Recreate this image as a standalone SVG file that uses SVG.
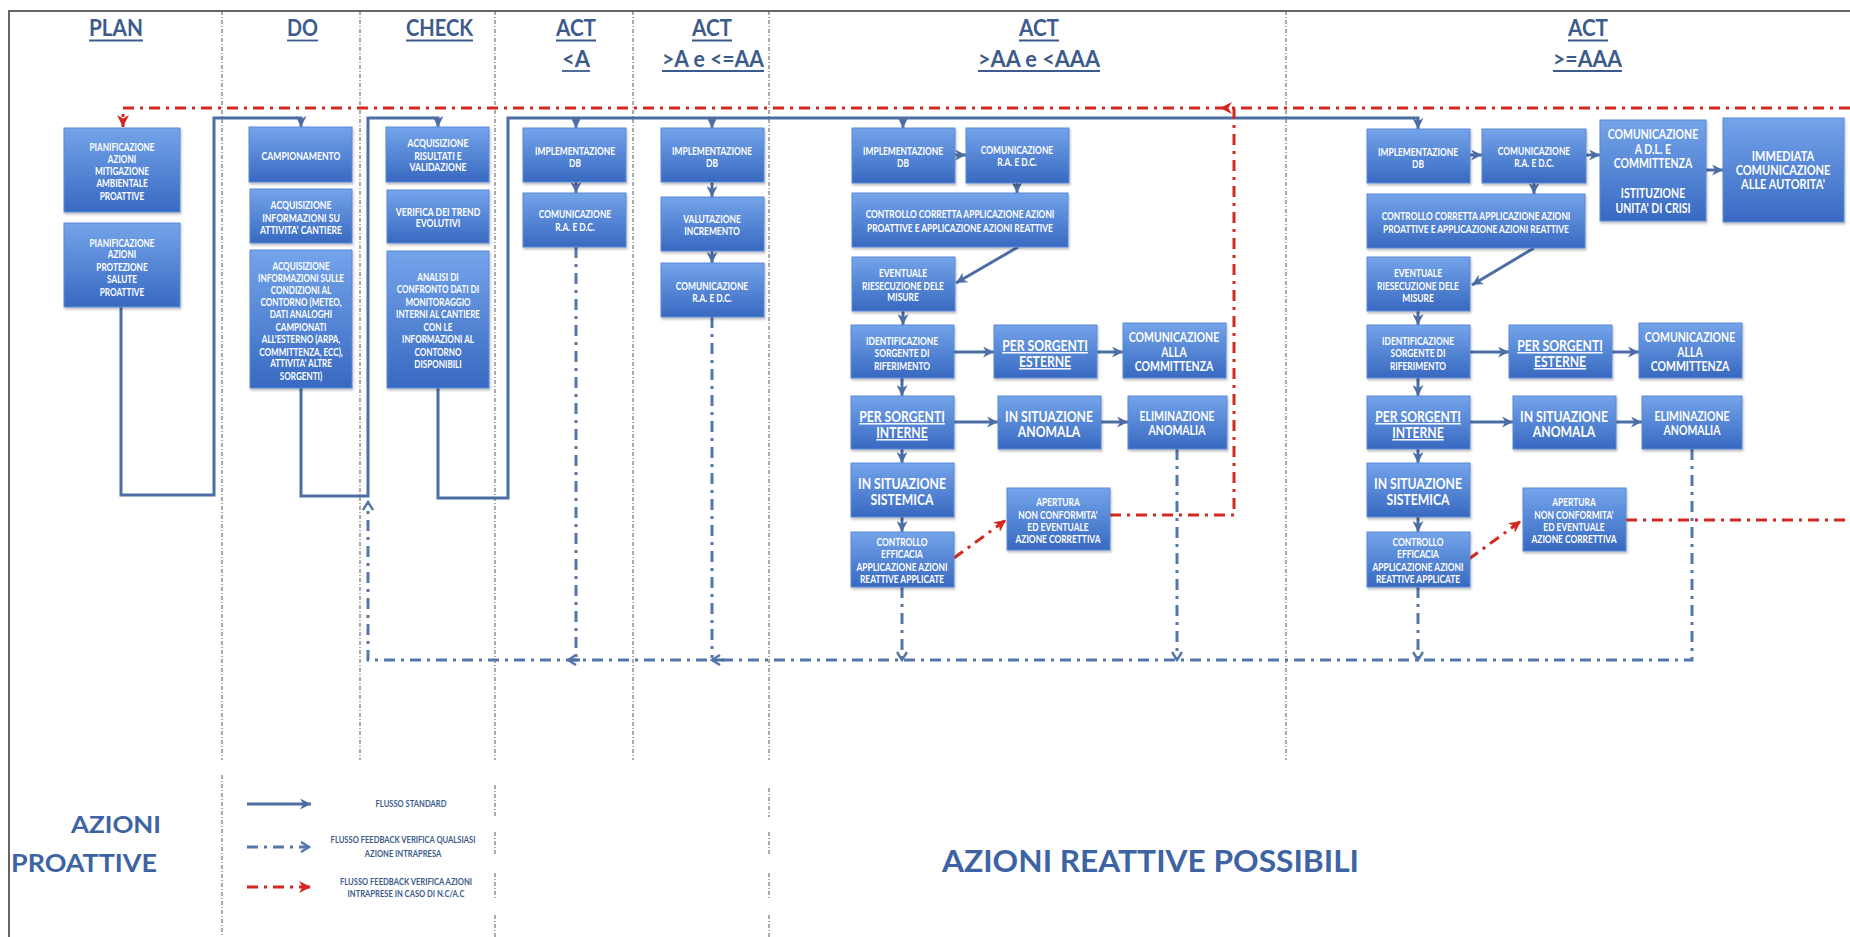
<svg xmlns="http://www.w3.org/2000/svg" width="1850" height="937" viewBox="0 0 1850 937">
<style>
  .box { fill: url(#boxFill); stroke: #5a89d3; stroke-width: 1; filter: url(#sh); }
  .t { font-family: Lato, "Open Sans", "Liberation Sans", sans-serif; font-weight: 700; fill: #ffffff; text-anchor: middle; }
  .s { font-size: 10.5px; }
  .m { font-size: 12.5px; }
  .l { font-size: 14.5px; }
  .u { text-decoration: underline; }
  .hd { font-family: Lato, "Open Sans", "Liberation Sans", sans-serif; font-weight: 700; font-size: 23px; fill: #3c5b8c; }
  .hl { stroke: #3c5b8c; stroke-width: 1.8; }
  .big { font-family: Lato, "Open Sans", "Liberation Sans", sans-serif; font-weight: 700; fill: #3d63a3; }
  .lg { font-family: Lato, "Open Sans", "Liberation Sans", sans-serif; font-weight: 700; font-size: 9.5px; fill: #3c5b8c; text-anchor: middle; }
  .div { stroke: #555; stroke-width: 1; stroke-dasharray: 4 2 1 2; fill: none; }
  .flow { stroke: #4d6ea4; stroke-width: 3; fill: none; }
  .fb { stroke: #5477ab; stroke-width: 3; fill: none; stroke-dasharray: 11 6 3 6; }
  .nc { stroke: #d3281f; stroke-width: 3; fill: none; stroke-dasharray: 11 6 3 6; }
</style>
<defs>
  <linearGradient id="boxFill" x1="0" y1="0" x2="0" y2="1">
    <stop offset="0" stop-color="#74a4ea"/>
    <stop offset="1" stop-color="#3869c1"/>
  </linearGradient>
  <filter id="sh" x="-5%" y="-5%" width="115%" height="120%">
    <feDropShadow dx="1" dy="2" stdDeviation="1.2" flood-color="#000" flood-opacity="0.25"/>
  </filter>
  <marker id="ah" viewBox="0 0 10 10" refX="10" refY="5" markerWidth="11" markerHeight="11" markerUnits="userSpaceOnUse" orient="auto">
    <path d="M0,0 L10,5 L0,10 L3,5 z" fill="#4d6ea4"/>
  </marker>
  <marker id="ao" viewBox="0 0 12 12" refX="10" refY="6" markerWidth="12" markerHeight="12" markerUnits="userSpaceOnUse" orient="auto">
    <path d="M2,1 L10,6 L2,11" fill="none" stroke="#5477ab" stroke-width="2.4"/>
  </marker>
  <marker id="ar" viewBox="0 0 10 10" refX="10" refY="5" markerWidth="12" markerHeight="12" markerUnits="userSpaceOnUse" orient="auto">
    <path d="M0,0 L10,5 L0,10 L3,5 z" fill="#d3281f"/>
  </marker>
</defs>

<rect width="1850" height="937" fill="#ffffff"/>

<!-- frame -->
<path d="M9,937 V11 H1850" fill="none" stroke="#666" stroke-width="2"/>

<!-- column separators -->
<g id="separators">
  <path class="div" d="M222,11 V760 M222,775 V937"/>
  <path class="div" d="M360,11 V760"/>
  <path class="div" d="M495,11 V760 M495,785 V817 M495,832 V855 M495,873 V900 M495,915 V937"/>
  <path class="div" d="M633,11 V760"/>
  <path class="div" d="M769,11 V760 M769,788 V817 M769,832 V855 M769,873 V900 M769,915 V937"/>
  <path class="div" d="M1286,11 V760"/>
</g>

<!-- column headers -->
<g id="headers">
  <text class="hd" x="89" y="36" textLength="54" lengthAdjust="spacingAndGlyphs">PLAN</text>
  <line class="hl" x1="89" y1="40.5" x2="143" y2="40.5"/>
  <text class="hd" x="287" y="36" textLength="31" lengthAdjust="spacingAndGlyphs">DO</text>
  <line class="hl" x1="287" y1="40.5" x2="318" y2="40.5"/>
  <text class="hd" x="406" y="36" textLength="67" lengthAdjust="spacingAndGlyphs">CHECK</text>
  <line class="hl" x1="406" y1="40.5" x2="473" y2="40.5"/>
  <text class="hd" x="556" y="36" textLength="40" lengthAdjust="spacingAndGlyphs">ACT</text>
  <line class="hl" x1="556" y1="40.5" x2="596" y2="40.5"/>
  <text class="hd" x="562" y="67" textLength="28" lengthAdjust="spacingAndGlyphs">&lt;A</text>
  <line class="hl" x1="562" y1="71" x2="590" y2="71"/>
  <text class="hd" x="692" y="36" textLength="40" lengthAdjust="spacingAndGlyphs">ACT</text>
  <line class="hl" x1="692" y1="40.5" x2="732" y2="40.5"/>
  <text class="hd" x="662" y="67" textLength="102" lengthAdjust="spacingAndGlyphs">&gt;A e &lt;=AA</text>
  <line class="hl" x1="662" y1="71" x2="764" y2="71"/>
  <text class="hd" x="1019" y="36" textLength="40" lengthAdjust="spacingAndGlyphs">ACT</text>
  <line class="hl" x1="1019" y1="40.5" x2="1059" y2="40.5"/>
  <text class="hd" x="978" y="67" textLength="122" lengthAdjust="spacingAndGlyphs">&gt;AA e &lt;AAA</text>
  <line class="hl" x1="978" y1="71" x2="1100" y2="71"/>
  <text class="hd" x="1568" y="36" textLength="40" lengthAdjust="spacingAndGlyphs">ACT</text>
  <line class="hl" x1="1568" y1="40.5" x2="1608" y2="40.5"/>
  <text class="hd" x="1553" y="67" textLength="69" lengthAdjust="spacingAndGlyphs">&gt;=AAA</text>
  <line class="hl" x1="1553" y1="71" x2="1622" y2="71"/>
</g>

<!-- connectors -->
<g id="connectors">
  <!-- standard flow -->
  <path class="flow" d="M121,307 V495 H214 V118 H301 V127" marker-end="url(#ah)"/>
  <path class="flow" d="M301,388 V496 H368 V118 H438 V127" marker-end="url(#ah)"/>
  <path class="flow" d="M438,388 V498 H508 V118 H1418 V129" marker-end="url(#ah)"/>
  <path class="flow" d="M576,118 V128" marker-end="url(#ah)"/>
  <path class="flow" d="M712,118 V128" marker-end="url(#ah)"/>
  <path class="flow" d="M903,118 V128" marker-end="url(#ah)"/>

  <path class="flow" d="M576,182 V193" marker-end="url(#ah)"/>
  <path class="flow" d="M712,182 V197" marker-end="url(#ah)"/>
  <path class="flow" d="M712,251 V263" marker-end="url(#ah)"/>

  <path class="flow" d="M955,155 H966" marker-end="url(#ah)"/>
  <path class="flow" d="M1017,183 V193" marker-end="url(#ah)"/>
  <path class="flow" d="M1018,247 L956,283" marker-end="url(#ah)"/>
  <path class="flow" d="M903,311 V325" marker-end="url(#ah)"/>
  <path class="flow" d="M954,352 H994" marker-end="url(#ah)"/>
  <path class="flow" d="M1097,352 H1123" marker-end="url(#ah)"/>
  <path class="flow" d="M902,378 V396" marker-end="url(#ah)"/>
  <path class="flow" d="M954,422 H998" marker-end="url(#ah)"/>
  <path class="flow" d="M1101,422 H1128" marker-end="url(#ah)"/>
  <path class="flow" d="M902,449 V463" marker-end="url(#ah)"/>
  <path class="flow" d="M902,517 V532" marker-end="url(#ah)"/>

  <path class="flow" d="M1470,155 H1482" marker-end="url(#ah)"/>
  <path class="flow" d="M1586,155 H1600" marker-end="url(#ah)"/>
  <path class="flow" d="M1706,170 H1723" marker-end="url(#ah)"/>
  <path class="flow" d="M1534,183 V194" marker-end="url(#ah)"/>
  <path class="flow" d="M1534,248 L1472,285" marker-end="url(#ah)"/>
  <path class="flow" d="M1418,311 V325" marker-end="url(#ah)"/>
  <path class="flow" d="M1470,352 H1509" marker-end="url(#ah)"/>
  <path class="flow" d="M1612,352 H1639" marker-end="url(#ah)"/>
  <path class="flow" d="M1418,378 V396" marker-end="url(#ah)"/>
  <path class="flow" d="M1470,422 H1513" marker-end="url(#ah)"/>
  <path class="flow" d="M1616,422 H1642" marker-end="url(#ah)"/>
  <path class="flow" d="M1418,449 V463" marker-end="url(#ah)"/>
  <path class="flow" d="M1418,517 V532" marker-end="url(#ah)"/>

  <!-- feedback after any action -->
  <path class="fb" d="M1692,449 V660 H368 V502" marker-end="url(#ao)"/>
  <path class="fb" d="M576,247 V658"/>
  <path class="fb" d="M712,317 V658"/>
  <path class="flow" d="M580,660 H568" stroke-width="0" marker-end="url(#ao)"/>
  <path class="flow" d="M724,660 H712" stroke-width="0" marker-end="url(#ao)"/>
  <path class="fb" d="M902,587 V660" marker-end="url(#ao)"/>
  <path class="fb" d="M1177,449 V660" marker-end="url(#ao)"/>
  <path class="fb" d="M1418,587 V660" marker-end="url(#ao)"/>

  <!-- feedback on non-conformity -->
  <path class="nc" d="M1850,108 H123 V127" marker-end="url(#ar)"/>
  <path class="nc" d="M1110,515 H1234 V108 H1220" marker-end="url(#ar)"/>
  <path class="nc" d="M1626,520 H1850"/>
  <path class="nc" d="M954,558 L1006,520" stroke-dasharray="7 5 2 5" marker-end="url(#ar)"/>
  <path class="nc" d="M1469,559 L1521,521" stroke-dasharray="7 5 2 5" marker-end="url(#ar)"/>
</g>

<!-- PLAN -->
<g id="plan-mitigazione">
  <rect class="box" x="64" y="128" width="116" height="84"/>
  <text class="t s" transform="translate(122 0) scale(.78 1)"><tspan x="0" y="150.8">PIANIFICAZIONE</tspan><tspan x="0" y="162.8">AZIONI</tspan><tspan x="0" y="174.8">MITIGAZIONE</tspan><tspan x="0" y="186.8">AMBIENTALE</tspan><tspan x="0" y="199.8">PROATTIVE</tspan></text>
</g>
<g id="plan-salute">
  <rect class="box" x="64" y="223" width="116" height="84"/>
  <text class="t s" transform="translate(122 0) scale(.78 1)"><tspan x="0" y="246.8">PIANIFICAZIONE</tspan><tspan x="0" y="257.8">AZIONI</tspan><tspan x="0" y="270.8">PROTEZIONE</tspan><tspan x="0" y="282.8">SALUTE</tspan><tspan x="0" y="295.8">PROATTIVE</tspan></text>
</g>

<!-- DO -->
<g id="do-campionamento">
  <rect class="box" x="249" y="127" width="103" height="55"/>
  <text class="t s" transform="translate(301 0) scale(.82 1)"><tspan x="0" y="159.8">CAMPIONAMENTO</tspan></text>
</g>
<g id="do-attivita">
  <rect class="box" x="250" y="189" width="102" height="54"/>
  <text class="t s" transform="translate(301 0) scale(.82 1)"><tspan x="0" y="208.8">ACQUISIZIONE</tspan><tspan x="0" y="221.8">INFORMAZIONI SU</tspan><tspan x="0" y="233.8">ATTIVITA' CANTIERE</tspan></text>
</g>
<g id="do-contorno">
  <rect class="box" x="250" y="250" width="102" height="138"/>
  <text class="t s" transform="translate(301 0) scale(.77 1)"><tspan x="0" y="269.8">ACQUISIZIONE</tspan><tspan x="0" y="281.8">INFORMAZIONI SULLE</tspan><tspan x="0" y="293.8">CONDIZIONI AL</tspan><tspan x="0" y="305.8">CONTORNO (METEO,</tspan><tspan x="0" y="317.8">DATI ANALOGHI</tspan><tspan x="0" y="330.8">CAMPIONATI</tspan><tspan x="0" y="342.8">ALL'ESTERNO (ARPA,</tspan><tspan x="0" y="355.8">COMMITTENZA, ECC),</tspan><tspan x="0" y="366.8">ATTIVITA' ALTRE</tspan><tspan x="0" y="379.8">SORGENTI)</tspan></text>
</g>

<!-- CHECK -->
<g id="check-validazione">
  <rect class="box" x="386" y="127" width="103" height="55"/>
  <text class="t s" transform="translate(438 0) scale(.82 1)"><tspan x="0" y="146.8">ACQUISIZIONE</tspan><tspan x="0" y="159.8">RISULTATI E</tspan><tspan x="0" y="170.8">VALIDAZIONE</tspan></text>
</g>
<g id="check-trend">
  <rect class="box" x="387" y="190" width="102" height="53"/>
  <text class="t s" transform="translate(438 0) scale(.82 1)"><tspan x="0" y="215.8">VERIFICA DEI TREND</tspan><tspan x="0" y="226.8">EVOLUTIVI</tspan></text>
</g>
<g id="check-analisi">
  <rect class="box" x="387" y="251" width="102" height="137"/>
  <text class="t s" transform="translate(438 0) scale(.77 1)"><tspan x="0" y="280.8">ANALISI DI</tspan><tspan x="0" y="292.8">CONFRONTO DATI DI</tspan><tspan x="0" y="305.8">MONITORAGGIO</tspan><tspan x="0" y="317.8">INTERNI AL CANTIERE</tspan><tspan x="0" y="330.8">CON LE</tspan><tspan x="0" y="342.8">INFORMAZIONI AL</tspan><tspan x="0" y="355.8">CONTORNO</tspan><tspan x="0" y="367.8">DISPONIBILI</tspan></text>
</g>

<!-- ACT < A -->
<g id="a-implementazione">
  <rect class="box" x="523" y="128" width="103" height="54"/>
  <text class="t s" transform="translate(575 0) scale(.8 1)"><tspan x="0" y="154.8">IMPLEMENTAZIONE</tspan><tspan x="0" y="166.8">DB</tspan></text>
</g>
<g id="a-comunicazione">
  <rect class="box" x="523" y="193" width="103" height="54"/>
  <text class="t s" transform="translate(575 0) scale(.8 1)"><tspan x="0" y="217.8">COMUNICAZIONE</tspan><tspan x="0" y="230.8">R.A. E D.C.</tspan></text>
</g>

<!-- ACT > A and <= AA -->
<g id="b-implementazione">
  <rect class="box" x="661" y="128" width="103" height="54"/>
  <text class="t s" transform="translate(712 0) scale(.8 1)"><tspan x="0" y="154.8">IMPLEMENTAZIONE</tspan><tspan x="0" y="166.8">DB</tspan></text>
</g>
<g id="b-valutazione">
  <rect class="box" x="661" y="197" width="103" height="54"/>
  <text class="t s" transform="translate(712 0) scale(.8 1)"><tspan x="0" y="222.8">VALUTAZIONE</tspan><tspan x="0" y="234.8">INCREMENTO</tspan></text>
</g>
<g id="b-comunicazione">
  <rect class="box" x="661" y="263" width="103" height="54"/>
  <text class="t s" transform="translate(712 0) scale(.8 1)"><tspan x="0" y="289.8">COMUNICAZIONE</tspan><tspan x="0" y="301.8">R.A. E D.C.</tspan></text>
</g>

<!-- ACT > AA and < AAA -->
<g id="c-implementazione">
  <rect class="box" x="852" y="128" width="103" height="55"/>
  <text class="t s" transform="translate(903 0) scale(.8 1)"><tspan x="0" y="154.8">IMPLEMENTAZIONE</tspan><tspan x="0" y="166.8">DB</tspan></text>
</g>
<g id="c-comunicazione">
  <rect class="box" x="966" y="128" width="103" height="55"/>
  <text class="t s" transform="translate(1017 0) scale(.8 1)"><tspan x="0" y="153.8">COMUNICAZIONE</tspan><tspan x="0" y="165.8">R.A. E D.C.</tspan></text>
</g>
<g id="c-controllo-corretta">
  <rect class="box" x="852" y="193" width="216" height="54"/>
  <text class="t s" transform="translate(960 0) scale(.8 1)"><tspan x="0" y="217.8">CONTROLLO CORRETTA APPLICAZIONE AZIONI</tspan><tspan x="0" y="231.8">PROATTIVE E APPLICAZIONE AZIONI REATTIVE</tspan></text>
</g>
<g id="c-riesecuzione">
  <rect class="box" x="852" y="257" width="103" height="54"/>
  <text class="t s" transform="translate(903 0) scale(.8 1)"><tspan x="0" y="276.8">EVENTUALE</tspan><tspan x="0" y="289.8">RIESECUZIONE DELE</tspan><tspan x="0" y="300.8">MISURE</tspan></text>
</g>
<g id="c-identificazione">
  <rect class="box" x="851" y="325" width="103" height="53"/>
  <text class="t s" transform="translate(902 0) scale(.8 1)"><tspan x="0" y="344.8">IDENTIFICAZIONE</tspan><tspan x="0" y="356.8">SORGENTE DI</tspan><tspan x="0" y="369.8">RIFERIMENTO</tspan></text>
</g>
<g id="c-esterne">
  <rect class="box" x="994" y="325" width="103" height="53"/>
  <text class="t l" transform="translate(1045 0) scale(.84 1)"><tspan class="u" x="0" y="351">PER SORGENTI</tspan><tspan class="u" x="0" y="367">ESTERNE</tspan></text>
</g>
<g id="c-committenza">
  <rect class="box" x="1123" y="323" width="103" height="55"/>
  <text class="t m" transform="translate(1174 0) scale(.84 1)"><tspan x="0" y="342.5">COMUNICAZIONE</tspan><tspan x="0" y="357.5">ALLA</tspan><tspan x="0" y="371.5">COMMITTENZA</tspan></text>
</g>
<g id="c-interne">
  <rect class="box" x="851" y="396" width="103" height="53"/>
  <text class="t l" transform="translate(902 0) scale(.84 1)"><tspan class="u" x="0" y="422">PER SORGENTI</tspan><tspan class="u" x="0" y="438">INTERNE</tspan></text>
</g>
<g id="c-anomala">
  <rect class="box" x="998" y="396" width="103" height="53"/>
  <text class="t l" transform="translate(1049 0) scale(.84 1)"><tspan x="0" y="422">IN SITUAZIONE</tspan><tspan x="0" y="437">ANOMALA</tspan></text>
</g>
<g id="c-eliminazione">
  <rect class="box" x="1128" y="396" width="99" height="53"/>
  <text class="t m" transform="translate(1177 0) scale(.84 1)"><tspan x="0" y="421.5">ELIMINAZIONE</tspan><tspan x="0" y="435.5">ANOMALIA</tspan></text>
</g>
<g id="c-sistemica">
  <rect class="box" x="851" y="463" width="103" height="54"/>
  <text class="t l" transform="translate(902 0) scale(.84 1)"><tspan x="0" y="489">IN SITUAZIONE</tspan><tspan x="0" y="505">SISTEMICA</tspan></text>
</g>
<g id="c-efficacia">
  <rect class="box" x="851" y="532" width="103" height="55"/>
  <text class="t s" transform="translate(902 0) scale(.8 1)"><tspan x="0" y="545.8">CONTROLLO</tspan><tspan x="0" y="557.8">EFFICACIA</tspan><tspan x="0" y="570.8">APPLICAZIONE AZIONI</tspan><tspan x="0" y="582.8">REATTIVE APPLICATE</tspan></text>
</g>
<g id="c-apertura">
  <rect class="box" x="1007" y="488" width="103" height="62"/>
  <text class="t s" transform="translate(1058 0) scale(.8 1)"><tspan x="0" y="505.8">APERTURA</tspan><tspan x="0" y="518.8">NON CONFORMITA'</tspan><tspan x="0" y="530.8">ED EVENTUALE</tspan><tspan x="0" y="542.8">AZIONE CORRETTIVA</tspan></text>
</g>

<!-- ACT >= AAA -->
<g id="d-implementazione">
  <rect class="box" x="1367" y="129" width="103" height="54"/>
  <text class="t s" transform="translate(1418 0) scale(.8 1)"><tspan x="0" y="155.8">IMPLEMENTAZIONE</tspan><tspan x="0" y="167.8">DB</tspan></text>
</g>
<g id="d-comunicazione">
  <rect class="box" x="1482" y="129" width="104" height="54"/>
  <text class="t s" transform="translate(1534 0) scale(.8 1)"><tspan x="0" y="154.8">COMUNICAZIONE</tspan><tspan x="0" y="166.8">R.A. E D.C.</tspan></text>
</g>
<g id="d-crisi">
  <rect class="box" x="1600" y="120" width="106" height="101"/>
  <text class="t m" transform="translate(1653 0) scale(.84 1)"><tspan x="0" y="139.5">COMUNICAZIONE</tspan><tspan x="0" y="154.5">A D.L. E</tspan><tspan x="0" y="168.5">COMMITTENZA</tspan><tspan x="0" y="198.5">ISTITUZIONE</tspan><tspan x="0" y="213.5">UNITA' DI CRISI</tspan></text>
</g>
<g id="d-autorita">
  <rect class="box" x="1723" y="118" width="121" height="104"/>
  <text class="t m" transform="translate(1783 0) scale(.88 1)"><tspan x="0" y="161.5">IMMEDIATA</tspan><tspan x="0" y="175.5">COMUNICAZIONE</tspan><tspan x="0" y="189.5">ALLE AUTORITA'</tspan></text>
</g>
<g id="d-controllo-corretta">
  <rect class="box" x="1367" y="194" width="218" height="54"/>
  <text class="t s" transform="translate(1476 0) scale(.8 1)"><tspan x="0" y="219.8">CONTROLLO CORRETTA APPLICAZIONE AZIONI</tspan><tspan x="0" y="232.8">PROATTIVE E APPLICAZIONE AZIONI REATTIVE</tspan></text>
</g>
<g id="d-riesecuzione">
  <rect class="box" x="1367" y="257" width="103" height="54"/>
  <text class="t s" transform="translate(1418 0) scale(.8 1)"><tspan x="0" y="276.8">EVENTUALE</tspan><tspan x="0" y="289.8">RIESECUZIONE DELE</tspan><tspan x="0" y="301.8">MISURE</tspan></text>
</g>
<g id="d-identificazione">
  <rect class="box" x="1367" y="325" width="103" height="53"/>
  <text class="t s" transform="translate(1418 0) scale(.8 1)"><tspan x="0" y="344.8">IDENTIFICAZIONE</tspan><tspan x="0" y="356.8">SORGENTE DI</tspan><tspan x="0" y="369.8">RIFERIMENTO</tspan></text>
</g>
<g id="d-esterne">
  <rect class="box" x="1509" y="325" width="103" height="53"/>
  <text class="t l" transform="translate(1560 0) scale(.84 1)"><tspan class="u" x="0" y="351">PER SORGENTI</tspan><tspan class="u" x="0" y="367">ESTERNE</tspan></text>
</g>
<g id="d-committenza">
  <rect class="box" x="1639" y="323" width="103" height="55"/>
  <text class="t m" transform="translate(1690 0) scale(.84 1)"><tspan x="0" y="342.5">COMUNICAZIONE</tspan><tspan x="0" y="357.5">ALLA</tspan><tspan x="0" y="371.5">COMMITTENZA</tspan></text>
</g>
<g id="d-interne">
  <rect class="box" x="1367" y="396" width="103" height="53"/>
  <text class="t l" transform="translate(1418 0) scale(.84 1)"><tspan class="u" x="0" y="422">PER SORGENTI</tspan><tspan class="u" x="0" y="438">INTERNE</tspan></text>
</g>
<g id="d-anomala">
  <rect class="box" x="1513" y="396" width="103" height="53"/>
  <text class="t l" transform="translate(1564 0) scale(.84 1)"><tspan x="0" y="422">IN SITUAZIONE</tspan><tspan x="0" y="437">ANOMALA</tspan></text>
</g>
<g id="d-eliminazione">
  <rect class="box" x="1642" y="396" width="100" height="53"/>
  <text class="t m" transform="translate(1692 0) scale(.84 1)"><tspan x="0" y="421.5">ELIMINAZIONE</tspan><tspan x="0" y="435.5">ANOMALIA</tspan></text>
</g>
<g id="d-sistemica">
  <rect class="box" x="1367" y="463" width="103" height="54"/>
  <text class="t l" transform="translate(1418 0) scale(.84 1)"><tspan x="0" y="489">IN SITUAZIONE</tspan><tspan x="0" y="505">SISTEMICA</tspan></text>
</g>
<g id="d-efficacia">
  <rect class="box" x="1367" y="532" width="103" height="55"/>
  <text class="t s" transform="translate(1418 0) scale(.8 1)"><tspan x="0" y="545.8">CONTROLLO</tspan><tspan x="0" y="557.8">EFFICACIA</tspan><tspan x="0" y="570.8">APPLICAZIONE AZIONI</tspan><tspan x="0" y="582.8">REATTIVE APPLICATE</tspan></text>
</g>
<g id="d-apertura">
  <rect class="box" x="1523" y="488" width="103" height="63"/>
  <text class="t s" transform="translate(1574 0) scale(.8 1)"><tspan x="0" y="505.8">APERTURA</tspan><tspan x="0" y="518.8">NON CONFORMITA'</tspan><tspan x="0" y="530.8">ED EVENTUALE</tspan><tspan x="0" y="542.8">AZIONE CORRETTIVA</tspan></text>
</g>

<!-- legend -->
<g id="legend">
  <path class="flow" d="M247,804 H311" marker-end="url(#ah)"/>
  <text class="lg" transform="translate(411 0) scale(.8 1)"><tspan x="0" y="807.5">FLUSSO STANDARD</tspan></text>
  <path class="fb" d="M247,847 H309" stroke-dasharray="9 5 3 5" marker-end="url(#ao)"/>
  <text class="lg" transform="translate(403 0) scale(.8 1)"><tspan x="0" y="843.5">FLUSSO FEEDBACK VERIFICA QUALSIASI</tspan><tspan x="0" y="856.5">AZIONE INTRAPRESA</tspan></text>
  <path class="nc" d="M247,887 H311" stroke-dasharray="9 5 3 5" marker-end="url(#ar)"/>
  <text class="lg" transform="translate(406 0) scale(.8 1)"><tspan x="0" y="885.5">FLUSSO FEEDBACK VERIFICA AZIONI</tspan><tspan x="0" y="897.5">INTRAPRESE IN CASO DI N.C/A.C</tspan></text>
</g>

<!-- section titles -->
<g id="titles">
  <text class="big" x="71" y="833" font-size="23" textLength="90" lengthAdjust="spacingAndGlyphs">AZIONI</text>
  <text class="big" x="11" y="872" font-size="24" textLength="146" lengthAdjust="spacingAndGlyphs">PROATTIVE</text>
  <text class="big" x="942" y="872" font-size="30" textLength="417" lengthAdjust="spacingAndGlyphs">AZIONI REATTIVE POSSIBILI</text>
</g>
</svg>
